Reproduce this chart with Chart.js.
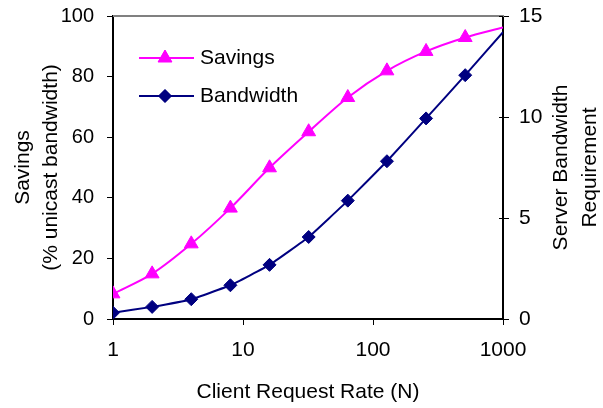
<!DOCTYPE html>
<html>
<head>
<meta charset="utf-8">
<script src="https://cdn.jsdelivr.net/npm/chart.js@4/dist/chart.umd.min.js"></script>
<style>
  html, body { margin: 0; padding: 0; background: #ffffff; }
  #wrap { width: 603px; height: 408px; }
</style>
</head>
<body>
<div id="wrap"><canvas id="c" width="603" height="408"></canvas></div>
<script>
// ---- data ----
const requestRates = [1, 2, 4, 8, 16, 32, 64, 128, 256, 512, 1000];
const savingsPct   = [8.3, 14.9, 24.8, 36.6, 49.9, 61.8, 73.1, 81.9, 88.3, 92.9, 96.2];
const bandwidthReq = [0.31, 0.6, 0.98, 1.67, 2.68, 4.06, 5.86, 7.81, 9.93, 12.07, 14.2];
const xTickValues  = [1, 10, 100, 1000];
const seriesNames  = ['Savings', 'Bandwidth'];
const xTitle = 'Client Request Rate (N)';
const yLeftTitle = ['Savings', '(% unicast bandwidth)'];
const yRightTitle = ['Server Bandwidth', 'Requirement'];

const FONT = "'Liberation Sans', Arial, sans-serif";
const MAGENTA = '#FF00FF';
const NAVY = '#000080';

const toPts = (ys) => requestRates.map((x, i) => ({x: x, y: ys[i]}));
const lastHidden = (r) => requestRates.map((x, i) => i === requestRates.length - 1 ? 0 : r);

const decorPlugin = {
  id: 'decor',
  afterDraw(chart) {
    const ctx = chart.ctx;
    const a = chart.chartArea;
    ctx.save();
    // top frame line (gray)
    ctx.strokeStyle = '#808080';
    ctx.lineWidth = 2;
    ctx.beginPath();
    ctx.moveTo(a.left, a.top);
    ctx.lineTo(a.right + 1, a.top);
    ctx.stroke();
    // right axis ticks crossing into the plot
    const yr = chart.scales.y2;
    ctx.strokeStyle = '#000';
    ctx.lineWidth = 1;
    yr.ticks.forEach((t) => {
      const py = Math.round(yr.getPixelForValue(t.value)) + 0.5;
      ctx.beginPath();
      ctx.moveTo(a.right - 4, py);
      ctx.lineTo(a.right, py);
      ctx.stroke();
    });
    // right axis title, reading bottom-to-top
    ctx.fillStyle = '#000';
    ctx.font = '21px ' + FONT;
    ctx.textAlign = 'center';
    ctx.textBaseline = 'middle';
    const cy = (a.top + a.bottom) / 2;
    const xs = [561, 590];
    yRightTitle.forEach((line, i) => {
      ctx.save();
      ctx.translate(xs[i], cy);
      ctx.rotate(-Math.PI / 2);
      ctx.fillText(line, 0, 0);
      ctx.restore();
    });
    // in-plot legend
    const rows = [58, 96];
    chart.data.datasets.forEach((ds, i) => {
      const y = rows[i];
      ctx.strokeStyle = ds.borderColor;
      ctx.lineWidth = 2;
      ctx.beginPath();
      ctx.moveTo(139, y);
      ctx.lineTo(194, y);
      ctx.stroke();
      ctx.save();
      ctx.fillStyle = ds.pointBackgroundColor;
      ctx.strokeStyle = ds.pointBorderColor;
      ctx.lineWidth = 1;
      Chart.helpers.drawPoint(ctx, {
        pointStyle: ds.pointStyle, radius: ds.legendRadius, borderWidth: 1
      }, 165, y);
      ctx.fill();
      ctx.restore();
      ctx.fillStyle = '#000';
      ctx.textAlign = 'left';
      ctx.textBaseline = 'middle';
      ctx.font = '21px ' + FONT;
      ctx.fillText(ds.label, 200, y);
    });
    ctx.restore();
  }
};

const noPadV = (w) => (s) => { s.width = w; s.paddingTop = 0; s.paddingBottom = 0; };

new Chart(document.getElementById('c'), {
  type: 'line',
  data: {
    datasets: [
      {
        label: seriesNames[0],
        data: toPts(savingsPct),
        yAxisID: 'y',
        borderColor: MAGENTA,
        backgroundColor: MAGENTA,
        pointBackgroundColor: MAGENTA,
        pointBorderColor: MAGENTA,
        borderWidth: 2,
        pointStyle: 'triangle',
        pointRadius: lastHidden(8),
        legendRadius: 8,
        pointBorderWidth: 1,
        tension: 0.3,
        fill: false
      },
      {
        label: seriesNames[1],
        data: toPts(bandwidthReq),
        yAxisID: 'y2',
        borderColor: NAVY,
        backgroundColor: NAVY,
        pointBackgroundColor: NAVY,
        pointBorderColor: NAVY,
        borderWidth: 2,
        pointStyle: 'rectRot',
        pointRadius: lastHidden(6.5),
        legendRadius: 6.5,
        pointBorderWidth: 1,
        tension: 0.1,
        fill: false
      }
    ]
  },
  options: {
    responsive: false,
    animation: false,
    devicePixelRatio: 1,
    layout: { padding: { top: 16, left: 0, right: 0, bottom: 0 } },
    plugins: { legend: { display: false }, tooltip: { enabled: false } },
    elements: { point: { hoverRadius: 0 } },
    scales: {
      x: {
        type: 'logarithmic',
        min: 1, max: 1000,
        afterBuildTicks: (s) => { s.ticks = xTickValues.map(v => ({value: v})); },
        afterFit: (s) => { s.height = 89; s.paddingLeft = 0; s.paddingRight = 0; },
        ticks: {
          color: '#000', font: { family: FONT, size: 21 }, padding: 13,
          maxRotation: 0, autoSkip: false,
          callback: (v) => String(v)
        },
        grid: { display: true, drawOnChartArea: false, drawTicks: true, tickLength: 6, color: '#000' },
        border: { display: true, color: '#000', width: 2 },
        title: { display: true, text: xTitle, color: '#000', font: { family: FONT, size: 21 }, padding: { top: 4, bottom: 3 } }
      },
      y: {
        position: 'left',
        min: 0, max: 100,
        afterFit: noPadV(113),
        ticks: { stepSize: 20, color: '#000', font: { family: FONT, size: 20 }, padding: 13 },
        grid: { display: true, drawOnChartArea: false, drawTicks: true, tickLength: 6, color: '#000' },
        border: { display: true, color: '#000', width: 2 },
        title: { display: true, text: yLeftTitle, color: '#000', font: { family: FONT, size: 21, lineHeight: 1.3 }, padding: { top: 10, bottom: 0 } }
      },
      y2: {
        position: 'right',
        min: 0, max: 15,
        afterFit: noPadV(100),
        ticks: { stepSize: 5, color: '#000', font: { family: FONT, size: 21 }, padding: 10 },
        grid: { display: true, drawOnChartArea: false, drawTicks: true, tickLength: 6, color: '#000' },
        border: { display: true, color: '#000', width: 2 },
        title: { display: false }
      }
    }
  },
  plugins: [decorPlugin]
});
</script>
</body>
</html>
